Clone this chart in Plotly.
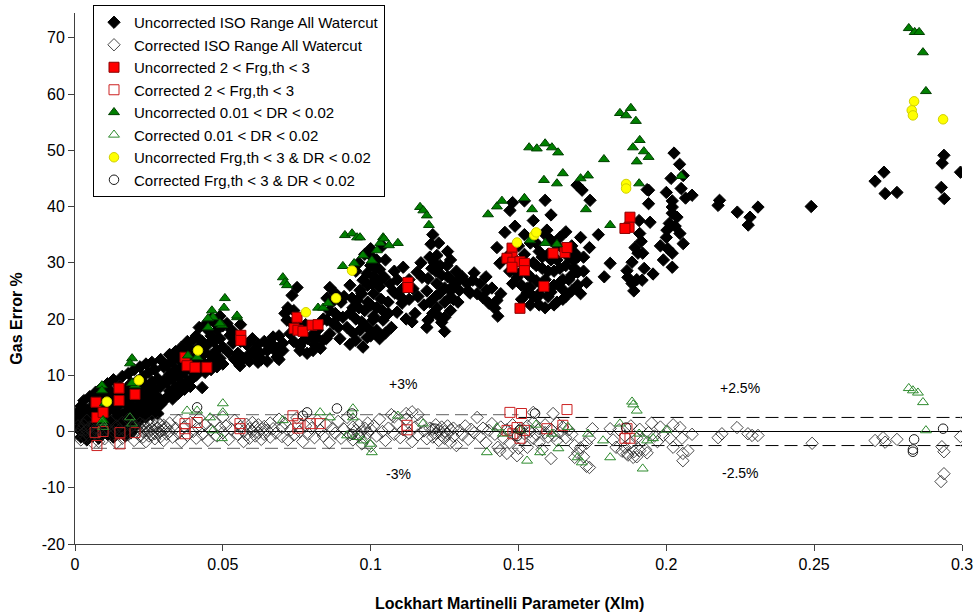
import plotly.graph_objects as go

# ---------------------------------------------------------------------------
# Measured gas error (%) versus Lockhart-Martinelli parameter Xlm.
# Each series is a list of (Xlm, gas error %) pairs.
# ---------------------------------------------------------------------------

iso_uncorrected = [
    (0.001, 0.5), (0.001, 2), (0.001, 3.5), (0.002, -1), (0.002, 1), (0.002, 4.5), (0.003, 0), (0.003, 2.5),
    (0.003, 5.5), (0.004, -1.5), (0.004, 1.5), (0.004, 3.8), (0.005, 0.3), (0.005, 2.8), (0.005, 6.2),
    (0.006, -0.8), (0.006, 1.8), (0.006, 4.6), (0.007, 0.8), (0.007, 3.4), (0.007, 7), (0.008, -1.2),
    (0.008, 2.2), (0.008, 5.4), (0.009, 0.2), (0.009, 3.9), (0.009, 7.8), (0.010, 1.3), (0.010, 4.8), (0.010, 6.5),
    (0.011, -0.5), (0.011, 2.5), (0.011, 5.8), (0.011, 8.5), (0.012, 0.8), (0.012, 4), (0.012, 7.2), (0.013, -1),
    (0.013, 2), (0.013, 5.3), (0.013, 9.2), (0.014, 0.3), (0.014, 3.4), (0.014, 6.6), (0.015, -0.3), (0.015, 1.8),
    (0.015, 4.7), (0.015, 8), (0.016, 0.6), (0.016, 3), (0.016, 6), (0.016, 9.8), (0.017, -0.8), (0.017, 2.2),
    (0.017, 5), (0.017, 7.5), (0.018, 1), (0.018, 3.8), (0.018, 6.8), (0.018, 10.3), (0.019, -0.2), (0.019, 2.6),
    (0.019, 5.6), (0.019, 8.6), (0.020, 0.8), (0.020, 4.2), (0.020, 7.2), (0.020, 11),
    (0.021, 3), (0.021, 6), (0.021, 9), (0.022, 2), (0.022, 4.8), (0.022, 7.8), (0.022, 11.5), (0.023, 3.5),
    (0.023, 6.5), (0.023, 9.8), (0.024, 2.5), (0.024, 5.2), (0.024, 8.3), (0.024, 12), (0.025, 4), (0.025, 7),
    (0.025, 10.5), (0.026, 3), (0.026, 5.8), (0.026, 8.8), (0.026, 12.3), (0.027, 4.5), (0.027, 7.5), (0.027, 11),
    (0.028, 3.2), (0.028, 6.2), (0.028, 9.4), (0.029, 4.8), (0.029, 8), (0.029, 12.8), (0.030, 5.5), (0.030, 9),
    (0.030, 11.5),
    (0.031, 6), (0.031, 8.8), (0.031, 11.8), (0.032, 7.2), (0.032, 10.2), (0.032, 13.7), (0.033, 5.8), (0.033, 9.2),
    (0.033, 12.5), (0.034, 7.8), (0.034, 11), (0.034, 14.2), (0.035, 6.8), (0.035, 9.8), (0.035, 13), (0.036, 8.5),
    (0.036, 11.6), (0.036, 15), (0.037, 7.5), (0.037, 10.6), (0.037, 14), (0.038, 9), (0.038, 12.2), (0.038, 16),
    (0.039, 8), (0.039, 11), (0.039, 14.6), (0.040, 9.6), (0.040, 12.8), (0.040, 16.3),
    (0.041, 10), (0.041, 13.2), (0.041, 17), (0.042, 11.5), (0.042, 15), (0.042, 18.5), (0.043, 7.8), (0.043, 12.5),
    (0.043, 16), (0.044, 10.5), (0.044, 14), (0.044, 19), (0.045, 12), (0.045, 15.5), (0.045, 18), (0.046, 11),
    (0.046, 13.5), (0.046, 17), (0.046, 20), (0.047, 12.5), (0.047, 16), (0.047, 19.5), (0.048, 11.5), (0.048, 14.5),
    (0.048, 18), (0.049, 13), (0.049, 16.5), (0.049, 20.5), (0.050, 12), (0.050, 15), (0.050, 18.8),
    (0.0514, 19.2), (0.0524, 17.1), (0.0534, 15.7), (0.0551, 13.9), (0.0558, 11.7), (0.0585, 13.5), (0.0602, 14.4),
    (0.0619, 12.3), (0.0626, 13.9), (0.065, 14.4), (0.066, 15.7), (0.0676, 15), (0.0683, 13.2), (0.0703, 15.7),
    (0.0703, 14.4), (0.052, 14), (0.053, 18), (0.054, 12.8), (0.056, 16), (0.057, 13), (0.058, 15.5), (0.059, 12.5),
    (0.060, 16.5), (0.061, 13.5), (0.062, 15.5), (0.063, 12.8), (0.064, 16), (0.065, 12.5), (0.067, 16.8),
    (0.068, 14.2), (0.069, 17), (0.069, 12.8), (0.054, 17), (0.056, 19),
    (0.0751, 25.6), (0.0734, 24.2), (0.072, 22), (0.0717, 19.8), (0.0727, 17.4), (0.0734, 19.2), (0.0761, 14.4),
    (0.0785, 13.9), (0.0805, 14.4), (0.0839, 16.2), (0.0862, 17.4), (0.0873, 19.2), (0.0852, 19.8), (0.089, 18.5),
    (0.0818, 16.7), (0.0788, 16.5), (0.0896, 16.5), (0.088, 24.6), (0.0852, 23.7), (0.0862, 25.6), (0.071, 21),
    (0.074, 21.5), (0.076, 18.5), (0.077, 16), (0.078, 19), (0.080, 17), (0.081, 15.5), (0.082, 18), (0.083, 14.8),
    (0.084, 20), (0.085, 16.5), (0.086, 21.5), (0.087, 23), (0.088, 21), (0.089, 20.5), (0.090, 23), (0.074, 16),
    (0.076, 15.2),
    (0.0906, 20.3), (0.093, 21), (0.094, 22), (0.0954, 23.3), (0.0964, 25.1), (0.0974, 26.9), (0.0988, 28.1),
    (0.1004, 26.3), (0.0964, 18), (0.0988, 16.7), (0.0974, 15), (0.1008, 19.8), (0.0937, 23.7), (0.091, 24),
    (0.092, 18.5), (0.093, 26), (0.094, 17.5), (0.095, 20), (0.095, 28.5), (0.096, 22), (0.096, 30), (0.097, 19.5),
    (0.097, 24.5), (0.098, 21.5), (0.098, 31.5), (0.099, 18.5), (0.099, 23), (0.099, 26), (0.100, 29.5),
    (0.100, 22.5), (0.100, 32.5), (0.100, 17), (0.101, 24.5), (0.101, 27.5), (0.101, 20.5), (0.102, 30.5),
    (0.102, 22), (0.102, 18), (0.103, 25.8), (0.103, 28.8), (0.103, 16.5), (0.104, 21.5), (0.104, 33), (0.093, 15.5),
    (0.095, 16.2), (0.1005, 31), (0.1015, 29), (0.1025, 26.5), (0.1035, 23.5), (0.1045, 27.5),
    (0.111, 29.2), (0.1065, 26.3), (0.1082, 24.6), (0.1059, 23), (0.1089, 21.2), (0.1042, 19.8), (0.1106, 22.8),
    (0.1143, 25.4), (0.1157, 28.3), (0.1174, 27.4), (0.1194, 27.2), (0.120, 23), (0.1194, 19.8), (0.119, 18.5),
    (0.1207, 29), (0.1204, 33.3), (0.107, 18.5), (0.112, 20), (0.113, 23.5), (0.115, 21), (0.116, 24), (0.118, 22.5),
    (0.117, 30), (0.105, 30.5), (0.109, 27), (0.111, 25.5), (0.105, 17.5), (0.106, 21), (0.1075, 25),
    (0.108, 28.5), (0.110, 24), (0.113, 27), (0.114, 19.5), (0.119, 25), (0.120, 31),
    (0.1224, 31.3), (0.1258, 29.5), (0.124, 27.8), (0.1268, 27.4), (0.1224, 26.3), (0.1234, 24.6), (0.1224, 22),
    (0.1251, 20.3), (0.124, 19.4), (0.1268, 23.8), (0.130, 25.1), (0.1295, 23), (0.121, 35), (0.122, 28.5),
    (0.123, 33.5), (0.125, 25.5), (0.126, 32), (0.127, 30.5), (0.128, 26), (0.129, 28.5), (0.121, 21), (0.122, 24),
    (0.125, 17.8), (0.127, 21.5), (0.1215, 30), (0.1235, 29.5), (0.125, 23), (0.126, 27.5), (0.127, 25),
    (0.128, 23.5), (0.129, 26.5), (0.123, 20.5),
    (0.1326, 26.3), (0.1346, 26.9), (0.137, 26.3), (0.1393, 25.1), (0.138, 23.8), (0.1427, 23.3), (0.142, 21.9),
    (0.1336, 24.6), (0.131, 27.5), (0.133, 25), (0.135, 28.2), (0.136, 24.5), (0.139, 27.5), (0.140, 22.8),
    (0.141, 25.5), (0.143, 20.5), (0.144, 24.5),
    (0.1427, 32.7), (0.1454, 35.4), (0.1488, 36.5), (0.1471, 39.3), (0.148, 40.7), (0.1437, 29.9), (0.1495, 27.4),
    (0.148, 26.3), (0.1539, 25.6), (0.1562, 23.8), (0.1529, 24.6), (0.159, 41.1), (0.1698, 43.8), (0.1715, 42.9),
    (0.1742, 41.1), (0.174, 32.7), (0.168, 27.8), (0.170, 26), (0.173, 26.5), (0.1647, 25.4), (0.1674, 31.7),
    (0.1685, 30.4), (0.1596, 35.8), (0.164, 34.5), (0.146, 31), (0.147, 28.5), (0.149, 30.5), (0.150, 33),
    (0.151, 26), (0.152, 31.5), (0.153, 28), (0.154, 22.5), (0.154, 33.5), (0.155, 30), (0.156, 26.8), (0.157, 32),
    (0.157, 24.5), (0.158, 29), (0.159, 22), (0.159, 27), (0.160, 31.5), (0.161, 24.8), (0.161, 34), (0.162, 28.5),
    (0.163, 23), (0.163, 30.5), (0.164, 26.5), (0.165, 32.5), (0.166, 24), (0.166, 29.5), (0.167, 27), (0.168, 33),
    (0.169, 29), (0.170, 31), (0.171, 34.5), (0.172, 28.5), (0.152, 41), (0.155, 37.5), (0.161, 38.5),
    (0.177, 35), (0.179, 27.5), (0.181, 29.9),
    (0.150, 28), (0.151, 23.5), (0.152, 35), (0.153, 25.5), (0.154, 27.5), (0.155, 24), (0.156, 29.5),
    (0.156, 33.5), (0.157, 22.5), (0.158, 26), (0.158, 31), (0.159, 35), (0.160, 24), (0.160, 28.5), (0.161, 30.5),
    (0.162, 22.5), (0.162, 26), (0.163, 33), (0.164, 29), (0.165, 23.5), (0.165, 27), (0.166, 35.5), (0.167, 31),
    (0.168, 25), (0.169, 31.8), (0.170, 28.3), (0.171, 24.5), (0.172, 31),
    (0.2026, 49.5), (0.2016, 45), (0.2057, 45.5), (0.205, 43.2), (0.2087, 42), (0.202, 41), (0.194, 42.9),
    (0.194, 40.5), (0.1945, 37.2), (0.202, 39.9), (0.202, 38.8), (0.200, 34.5), (0.2046, 35.2), (0.2057, 33.4),
    (0.202, 31.7), (0.202, 29.2), (0.192, 31.7), (0.1918, 26.9), (0.1935, 43), (0.1908, 37.5), (0.2036, 38.1),
    (0.2002, 35.8), (0.191, 35.2), (0.1894, 32.7), (0.1904, 31.7), (0.1884, 30.1), (0.1867, 28.6), (0.187, 27.4),
    (0.1884, 26.3), (0.190, 27), (0.198, 33), (0.199, 30.5), (0.2005, 32.5), (0.203, 36.5), (0.200, 42.5),
    (0.1925, 29), (0.189, 25), (0.1915, 33.8), (0.1955, 28), (0.2065, 41.5), (0.2045, 47.5), (0.201, 37),
    (0.218, 41.1), (0.2175, 40.2), (0.224, 39), (0.231, 39.9), (0.2283, 38.1), (0.2277, 36.7), (0.249, 40),
    (0.2736, 46.1), (0.2706, 44.5), (0.274, 42.3), (0.278, 42.5), (0.2939, 49.1), (0.2933, 47.7), (0.2995, 46.1),
    (0.293, 43.4), (0.294, 41.4),
]

iso_corrected = [
    (0.001, -0.5), (0.001, 1), (0.002, 0.3), (0.002, -1.5), (0.003, 1.2), (0.003, -0.8), (0.004, 0.2), (0.004, 2),
    (0.005, -1), (0.005, 0.8), (0.006, -2), (0.006, 0), (0.007, 1.5), (0.007, -0.5), (0.008, 0.4), (0.008, -1.8),
    (0.009, 1), (0.009, -0.6), (0.010, 0.2), (0.010, -1.3),
    (0.011, 0.6), (0.012, -0.9), (0.012, 1.8), (0.013, 0), (0.014, -2), (0.014, 1), (0.015, 0.3), (0.016, -1.2),
    (0.016, 1.6), (0.017, 0), (0.018, -0.6), (0.018, 2.2), (0.019, 0.8), (0.020, -1.6), (0.021, 0.4), (0.022, 1.5),
    (0.022, -0.8), (0.023, 0), (0.024, -1.8), (0.024, 1), (0.025, 0.2), (0.026, -0.6), (0.026, 1.8), (0.027, -1.3),
    (0.028, 0.6), (0.028, -0.2), (0.029, 1.2), (0.029, -0.9), (0.030, 0.3), (0.030, -1.6),
    (0.021, -0.3), (0.022, 0.6), (0.023, -1), (0.023, 1.2), (0.024, 0.2), (0.025, -0.8), (0.025, 1.4), (0.026, 0.4),
    (0.027, 0.9), (0.027, -0.4), (0.028, 1.6), (0.029, 0.1), (0.030, 1.1), (0.031, -0.5), (0.031, 0.7), (0.032, 0),
    (0.032, 1.5), (0.033, -1), (0.034, 0.6), (0.035, -0.3), (0.035, 2), (0.036, -1.8), (0.037, 0.8), (0.038, -0.7),
    (0.039, 1.6), (0.040, 0), (0.041, -1.2), (0.042, 2.4), (0.042, 0.5), (0.043, -0.5), (0.044, 1.2), (0.045, -1.6),
    (0.046, 0.3), (0.047, 1.8), (0.048, -0.8), (0.049, 0.6), (0.050, -0.2), (0.050, 2.6),
    (0.051, 1), (0.052, -1.4), (0.053, 0.4), (0.054, 2), (0.055, -0.5), (0.056, 0.9), (0.057, -1.8), (0.057, 0.1),
    (0.058, 1.3), (0.058, -0.6), (0.059, 0.5), (0.059, -1.2), (0.060, 1.6), (0.060, 0), (0.061, -0.8), (0.061, 0.8),
    (0.062, -0.2), (0.062, 1.2), (0.063, -1.4), (0.063, 0.4), (0.064, 0.9), (0.064, -0.5), (0.065, 0.2),
    (0.066, 1.5), (0.066, -1), (0.067, 0.5), (0.068, -0.3), (0.069, 2.2), (0.070, -0.9), (0.070, 0.7),
    (0.071, 1.5), (0.072, -1.5), (0.073, 0.3), (0.074, -0.6), (0.075, 2.4), (0.076, 0), (0.077, -1.8), (0.078, 1),
    (0.079, -0.4), (0.080, 0.6), (0.081, -1.1), (0.082, 2), (0.083, 0.2), (0.084, -0.8), (0.085, 1.3), (0.086, -2),
    (0.087, 0.5), (0.088, -0.3), (0.089, 1.8), (0.090, -1.2),
    (0.091, 0.4), (0.092, 2.5), (0.093, -0.6), (0.094, 0.8), (0.094, -1.5), (0.095, 0.2), (0.096, 1.2),
    (0.096, -0.8), (0.097, 0), (0.097, -2.2), (0.098, 0.6), (0.098, -1.2), (0.099, 1.5), (0.099, -0.3), (0.100, 0.4),
    (0.100, -2.6),
    (0.101, 1), (0.102, -0.8), (0.103, 2.2), (0.104, 0), (0.105, -1.6), (0.106, 0.6), (0.107, 3), (0.108, -0.5),
    (0.109, 1.4), (0.110, -1.1), (0.111, 0.3), (0.112, 2.2), (0.113, -0.3), (0.114, -1.8), (0.115, 0.8),
    (0.116, -0.6), (0.117, 1.6), (0.118, 0.1), (0.119, -1.3), (0.120, 0.6), (0.108, 2.6), (0.112, 3.2), (0.114, 3.5),
    (0.116, 3),
    (0.121, -1), (0.121, 0.4), (0.122, -0.3), (0.122, 1.2), (0.123, -1.6), (0.123, 0.2), (0.124, -0.7), (0.124, 0.8),
    (0.125, -1.2), (0.125, 0), (0.126, -0.4), (0.126, 1), (0.127, -2), (0.127, 0.3), (0.128, -0.9), (0.128, 0.6),
    (0.129, -2.5), (0.130, 0.2),
    (0.131, -0.6), (0.132, 1), (0.133, -1.4), (0.134, 0.4), (0.135, -0.2), (0.136, 2.5), (0.137, -0.9), (0.138, 0.6),
    (0.139, -2), (0.140, 0.2), (0.141, 1.4), (0.142, -0.5), (0.143, -2.8), (0.144, 0.8), (0.145, -1.2), (0.146, 0.3),
    (0.147, -2), (0.148, 1.2), (0.149, -0.6), (0.150, -3),
    (0.151, 0.6), (0.151, -1.5), (0.152, -0.4), (0.153, 1), (0.153, -2.8), (0.154, 0), (0.155, -1.2), (0.155, 1.6),
    (0.156, -0.5), (0.157, 0.5), (0.157, -2), (0.158, -3.2), (0.159, -0.2), (0.159, 1.2), (0.160, -1),
    (0.161, -4.8), (0.161, 0.4), (0.162, -0.7), (0.163, 1.5), (0.163, -1.6), (0.164, -0.2), (0.165, 0.8),
    (0.166, -1.1), (0.167, 0.3), (0.168, -0.5), (0.169, -2.5), (0.170, -3.8), (0.171, -2.9), (0.172, -4.5),
    (0.173, -6.2), (0.174, -1.2), (0.175, 0.5), (0.1617, 3.2), (0.155, 3.4), (0.1437, -3.4), (0.1461, -3.9),
    (0.1495, -4.3), (0.174, -6.4), (0.169, -4.6), (0.173, -2.1),
    (0.181, 0.5), (0.182, -1.5), (0.183, -2.8), (0.184, 0.3), (0.185, -3.5), (0.186, -0.8), (0.187, -4.2),
    (0.188, 1), (0.188, -2), (0.189, -3.6), (0.190, -1.2), (0.190, -4.5), (0.191, 0.4), (0.192, -1.6),
    (0.193, -3.2), (0.194, -0.2), (0.195, 1.5), (0.196, -0.8), (0.197, -1.8), (0.198, 0.8), (0.199, -0.7),
    (0.2023, 1.2), (0.2046, 0.7), (0.2087, -0.5), (0.2053, -1.2), (0.2012, -1.2), (0.2023, -2.8), (0.2056, -3.9),
    (0.2056, -5.2), (0.2073, -3.4), (0.1935, -3.8), (0.186, -2.8), (0.1867, -3.9), (0.1888, -4.6), (0.191, -3.4),
    (0.2175, -1.1), (0.2188, -0.4), (0.2239, 0.7), (0.2276, -0.4), (0.229, -0.7), (0.231, -0.7), (0.2493, -2.1),
    (0.2706, -1.6), (0.2733, -1.1), (0.274, -1.9), (0.278, -1.4), (0.2932, -2.7), (0.2939, -3.6), (0.2939, -7.5),
    (0.2929, -8.9), (0.2995, -0.9),
]

frg_uncorrected = [
    (0.0071, 5.2), (0.0074, 2.5), (0.0095, 3.4), (0.0149, 7.7), (0.0149, 5.5), (0.0203, 6.6), (0.0372, 13.2),
    (0.0379, 11.7), (0.0406, 11.4), (0.0446, 11.4), (0.0561, 17.1), (0.0561, 16.2), (0.0751, 20.3), (0.0741, 18.3),
    (0.0754, 18), (0.0771, 17.8), (0.0802, 18.9), (0.0822, 19), (0.1126, 26.5), (0.1126, 25.6), (0.1478, 32.6),
    (0.1478, 31), (0.1461, 30.8), (0.1481, 30.1), (0.1505, 30.2), (0.152, 29.9), (0.152, 28.6), (0.1478, 29.2),
    (0.1505, 21.9), (0.1617, 31.7), (0.1657, 31.8), (0.1664, 32.7), (0.1586, 25.8), (0.1877, 38.1),
    (0.1874, 36.3), (0.186, 36.1),
]

frg_corrected = [
    (0.0068, -0.2), (0.0074, -2.5), (0.0095, 0), (0.0152, -0.2), (0.0152, -2.2), (0.0203, -0.2), (0.0372, 1.4),
    (0.0372, -0.4), (0.0372, 0.5), (0.0413, 1.6), (0.0558, 1.4), (0.0558, 0.5), (0.0737, 2.8), (0.0754, 1.4),
    (0.0754, 0.6), (0.0795, 1.4), (0.0829, 1.4), (0.1123, 1.1), (0.1123, 0.3), (0.1471, 3.4), (0.151, 3.2),
    (0.1664, 3.9), (0.165, 1.1), (0.1461, 0.2), (0.1481, -0.4), (0.1495, 0.7), (0.1505, -1.2), (0.152, 0.2),
    (0.1596, 0.5), (0.1867, 0.5), (0.186, -1.2), (0.1877, -1.2),
]

dr_uncorrected = [
    (0.0091, 8.2), (0.0091, 7.3), (0.0101, 5), (0.0095, 2), (0.0193, 13), (0.0186, 12.1), (0.0203, 8.2),
    (0.0193, 8.6), (0.0382, 13.5), (0.0413, 13.2), (0.0463, 21.5), (0.0467, 20.3), (0.045, 20.1), (0.045, 18.5),
    (0.0497, 18.9), (0.0548, 20.3), (0.0507, 23.7), (0.0504, 22), (0.0548, 20.6), (0.049, 19.2), (0.0703, 27.4),
    (0.071, 26.5), (0.0717, 26), (0.0822, 22), (0.0839, 22), (0.0856, 22.8), (0.0906, 29.4), (0.0944, 29.9),
    (0.0913, 34.9), (0.0937, 35.2), (0.0954, 34.5), (0.0964, 34.5), (0.1042, 34.5), (0.1032, 33.5),
    (0.1021, 32.2), (0.0974, 31.3), (0.1004, 30.4), (0.1045, 34.3), (0.1062, 33.1), (0.1092, 33.5),
    (0.1167, 39.9), (0.1178, 39.3), (0.119, 38.4), (0.1197, 36.7), (0.1397, 38.6), (0.1427, 40), (0.1444, 41),
    (0.152, 41.5), (0.1546, 39.5), (0.1536, 50.5), (0.1562, 50.3), (0.159, 51.2), (0.1613, 50.5), (0.1634, 49.6),
    (0.1789, 48.4), (0.1539, 34), (0.159, 33.5), (0.163, 33.3), (0.165, 45.9), (0.1586, 44.7), (0.163, 44.1),
    (0.171, 45), (0.1735, 45.5), (0.1728, 39.5), (0.181, 36.7), (0.1843, 56.6), (0.1864, 56.2), (0.188, 57.5),
    (0.1897, 55.2), (0.1887, 50.5), (0.191, 51.8), (0.1924, 49.8), (0.190, 48), (0.194, 48.8), (0.1908, 44.1),
    (0.205, 45.4), (0.282, 71.7), (0.284, 71), (0.2855, 71), (0.2868, 67.4), (0.2878, 60.5),
]

dr_corrected = [
    (0.0091, 1.6), (0.0095, 0.8), (0.0186, 2.5), (0.0193, 1.4), (0.0379, 3.7), (0.0413, 3.7), (0.0457, 2.5),
    (0.050, 5), (0.050, 3.4), (0.0467, 0.2), (0.0497, -1.2), (0.0703, 2), (0.0829, 3.4), (0.0862, 2.5),
    (0.094, 4.1), (0.094, 2.5), (0.092, -0.7), (0.0954, -1), (0.0974, -1.6), (0.0998, -2.2), (0.1004, -3.7),
    (0.1092, 2.8), (0.1177, 1.4), (0.1427, 0.7), (0.1393, -3.7), (0.1505, 0.2), (0.1529, -5.2), (0.1573, -3.7),
    (0.1635, -3), (0.170, -4.6), (0.1714, -5.5), (0.1735, -0.4), (0.1786, -1.6), (0.181, -4.6), (0.1843, 1.4),
    (0.1884, 5.3), (0.1888, 4.8), (0.190, 3.7), (0.192, -6.6), (0.1908, -0.4), (0.1935, -1.6), (0.1955, -1.2),
    (0.200, 0.3), (0.1613, -0.4), (0.1447, -0.4), (0.1667, 0.8), (0.1559, 1.2),
    (0.282, 7.7), (0.2834, 7.3), (0.2851, 6.9), (0.2868, 5.2), (0.2878, 0.2),
]

both_uncorrected = [
    (0.0108, 5.3), (0.0216, 9.1), (0.0416, 14.4), (0.0781, 21.2), (0.0883, 23.7), (0.0937, 28.6),
    (0.1495, 33.6), (0.1553, 34.9), (0.156, 35.4), (0.1864, 44), (0.1864, 43.2), (0.2838, 58.7), (0.283, 57.1),
    (0.2834, 56.2), (0.2936, 55.5),
]

both_corrected = [
    (0.0413, 4.3), (0.0785, 3.4), (0.0886, 4.1), (0.0937, 3.2), (0.0771, 2.8), (0.1556, 3.2), (0.1864, 0.7),
    (0.2838, -1.4), (0.2834, -3.2), (0.2834, -3.6), (0.2936, 0.5), (0.0071, 0.5), (0.0203, 1), (0.0938, -0.5),
    (0.1505, 0.3), (0.1495, -0.8), (0.1217, 0.5),
]

# Uncertainty bands: +/-3 % below Xlm 0.15, +/-2.5 % above
band_x_low = [0.0, 0.15]
band_x_high = [0.15, 0.3]
band_low = 3.0
band_high = 2.5

x_ticks = [0, 0.05, 0.1, 0.15, 0.2, 0.25, 0.3]
x_tick_text = ["0", "0.05", "0.1", "0.15", "0.2", "0.25", "0.3"]
y_ticks = [-20, -10, 0, 10, 20, 30, 40, 50, 60, 70]
y_tick_text = ["-20", "-10", "0", "10", "20", "30", "40", "50", "60", "70"]

FONT = "Liberation Sans, Arial, sans-serif"


def xs(pts):
    return [p[0] for p in pts]


def ys(pts):
    return [p[1] for p in pts]


fig = go.Figure()

# reference lines (drawn underneath the data)
fig.add_trace(go.Scatter(x=[0, 0.3], y=[0, 0], mode="lines+markers", showlegend=False, hoverinfo="skip",
                         line=dict(color="black", width=1), marker=dict(size=[0, 3], color="black")))
for sgn in (1, -1):
    fig.add_trace(go.Scatter(x=band_x_low, y=[sgn * band_low] * 2, mode="lines", showlegend=False,
                             hoverinfo="skip", line=dict(color="#7f7f7f", width=1.2, dash="13px,6px")))
    fig.add_trace(go.Scatter(x=band_x_high, y=[sgn * band_high] * 2, mode="lines+markers", showlegend=False,
                             hoverinfo="skip", line=dict(color="black", width=1, dash="13px,6px"),
                             marker=dict(size=[0, 3], color="black")))

series = [
    ("Uncorrected ISO Range All Watercut", iso_uncorrected,
     dict(symbol="diamond", size=9.5, color="black", line=dict(color="black", width=1))),
    ("Corrected ISO Range All Watercut", iso_corrected,
     dict(symbol="diamond-open", size=9.5, color="#1a1a1a", line=dict(color="#1a1a1a", width=0.8))),
    ("Uncorrected 2 < Frg,th < 3", frg_uncorrected,
     dict(symbol="square", size=10, color="#ff0000", line=dict(color="#8b0000", width=1))),
    ("Corrected 2 < Frg,th < 3", frg_corrected,
     dict(symbol="square-open", size=10, color="#cc2222", line=dict(color="#cc2222", width=1))),
    ("Uncorrected 0.01 < DR < 0.02", dr_uncorrected,
     dict(symbol="triangle-up", size=9.5, color="#008000", line=dict(color="#004000", width=1))),
    ("Corrected 0.01 < DR < 0.02", dr_corrected,
     dict(symbol="triangle-up-open", size=9.5, color="#2e8b2e", line=dict(color="#2e8b2e", width=1))),
    ("Uncorrected Frg,th < 3 & DR < 0.02", both_uncorrected,
     dict(symbol="circle", size=9.5, color="#ffff00", line=dict(color="#d0d000", width=1))),
    ("Corrected Frg,th < 3 & DR < 0.02", both_corrected,
     dict(symbol="circle-open", size=9.5, color="#1a1a1a", line=dict(color="#1a1a1a", width=1))),
]

for i, (name, pts, marker) in enumerate(series):
    fig.add_trace(go.Scatter(x=xs(pts), y=ys(pts), mode="markers", name=name, marker=marker,
                             legendgroup=f"g{i}"))

labels = [(0.111, 8.4, "+3%"), (0.1095, -7.6, "-3%"), (0.225, 7.7, "+2.5%"), (0.225, -7.3, "-2.5%")]
for lx, ly, txt in labels:
    fig.add_annotation(x=lx, y=ly, text=txt, showarrow=False, font=dict(family=FONT, size=14, color="black"))

# axis titles
title_font = dict(family=FONT, size=16, color="black")
fig.add_annotation(x=-0.078, y=0.425, xref="paper", yref="paper", text="<b>Gas Error %</b>",
                   textangle=-90, showarrow=False, font=title_font)
fig.add_annotation(x=0.490, y=-0.132, xref="paper", yref="paper",
                   text="<b>Lockhart Martinelli Parameter (Xlm)</b>", showarrow=False, font=title_font)

axis_common = dict(showline=True, linecolor="#404040", linewidth=1, ticks="outside", ticklen=6,
                   tickcolor="#404040", showgrid=False, zeroline=False, automargin=False,
                   tickfont=dict(family=FONT, size=16, color="black"))

fig.update_layout(
    width=979, height=616,
    margin=dict(l=75, r=17, t=13, b=72, autoexpand=False),
    plot_bgcolor="white", paper_bgcolor="white",
    xaxis=dict(range=[0, 0.3], tickvals=x_ticks, ticktext=x_tick_text, **axis_common),
    yaxis=dict(range=[-20, 74.4], tickvals=y_ticks, ticktext=y_tick_text, **axis_common),
    legend=dict(x=93 / 979, y=1 - 5 / 616, xref="container", yref="container",
                xanchor="left", yanchor="top", bgcolor="white",
                bordercolor="black", borderwidth=1, tracegroupgap=0,
                font=dict(family=FONT, size=15, color="black")),
    showlegend=True,
)

fig.write_html("out.html")
